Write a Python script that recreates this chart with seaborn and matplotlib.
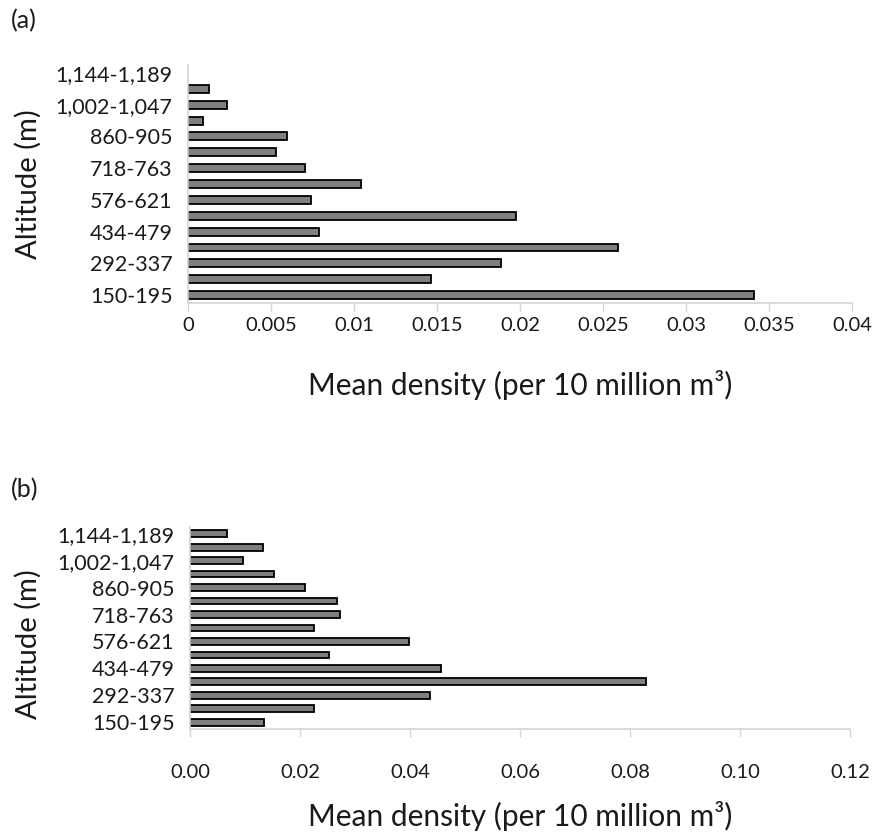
import numpy as np
import pandas as pd
import seaborn as sns
import matplotlib.pyplot as plt

# altitude bands, top of the chart first
altitudes = ["1,144-1,189", "1,073-1,118", "1,002-1,047", "931-976", "860-905",
             "789-834", "718-763", "647-692", "576-621", "505-550",
             "434-479", "363-408", "292-337", "221-266", "150-195"]

# mean density per band, panel (a) and panel (b)
density_a = [0.0, 0.00124, 0.00234, 0.00089, 0.00595, 0.00528, 0.00705, 0.01042,
             0.00743, 0.01976, 0.00789, 0.0259, 0.01887, 0.01467, 0.0341]
density_b = [0.0067, 0.0133, 0.0096, 0.0153, 0.0210, 0.0267, 0.0273, 0.0225,
             0.0398, 0.0252, 0.0456, 0.0830, 0.0436, 0.0226, 0.0134]

xticks_a = [0, 0.005, 0.01, 0.015, 0.02, 0.025, 0.03, 0.035, 0.04]
xticklabels_a = ["0", "0.005", "0.01", "0.015", "0.02", "0.025", "0.03", "0.035", "0.04"]
xticks_b = [0, 0.02, 0.04, 0.06, 0.08, 0.10, 0.12]
xticklabels_b = ["0.00", "0.02", "0.04", "0.06", "0.08", "0.10", "0.12"]

sns.set_theme(style="white")
plt.rcParams["font.family"] = ["Lato", "DejaVu Sans"]

fig = plt.figure(figsize=(8.8, 8.32), dpi=100)
spine_col = "#d4d4d4"
txt_col = "#1a1a1a"


def draw(ax, values, ticks, ticklabels, xpad, xlab_y, ylab_x, ylab_y):
    df = pd.DataFrame({"altitude": altitudes, "density": values})
    sns.barplot(data=df, x="density", y="altitude", order=altitudes, orient="h",
                color="#7f7f7f", saturation=1, edgecolor="black", linewidth=1.3,
                width=0.5, ax=ax)
    # zero-height bars should not leave an outline on the axis
    for p in ax.patches:
        if p.get_width() == 0:
            p.set_visible(False)
    ax.set_xlim(0, ticks[-1])
    ax.set_xticks(ticks)
    ax.set_xticklabels(ticklabels)
    ax.set_yticks(range(0, len(altitudes), 2))
    ax.set_yticklabels(altitudes[::2])
    ax.tick_params(axis="y", length=0, pad=11, labelsize=15.5, labelcolor=txt_col)
    ax.tick_params(axis="x", length=6, width=1, color=spine_col, direction="out",
                   pad=xpad, labelsize=14.5, labelcolor=txt_col, bottom=True)
    for s in ["top", "right"]:
        ax.spines[s].set_visible(False)
    for s in ["left", "bottom"]:
        ax.spines[s].set_color(spine_col)
        ax.spines[s].set_linewidth(1.2)
    ax.set_xlabel("Mean density (per 10 million m³)", fontsize=21.5, color=txt_col)
    ax.set_ylabel("Altitude (m)", fontsize=21, color=txt_col)
    ax.xaxis.set_label_coords(0.5, xlab_y)
    ax.yaxis.set_label_coords(ylab_x, ylab_y)
    ax.grid(False)


ax_a = fig.add_axes([0.2136, 0.6358, 0.7545, 0.286])
draw(ax_a, density_a, xticks_a, xticklabels_a, 4, -0.28, -0.22, 0.5)

ax_b = fig.add_axes([0.2159, 0.1238, 0.75, 0.2428])
draw(ax_b, density_b, xticks_b, xticklabels_b, 19, -0.355, -0.224, 0.42)

fig.text(0.012, 0.975, "(a)", fontsize=18, color=txt_col, va="center")
fig.text(0.012, 0.411, "(b)", fontsize=18, color=txt_col, va="center")

fig.savefig("out.png", dpi=100)
